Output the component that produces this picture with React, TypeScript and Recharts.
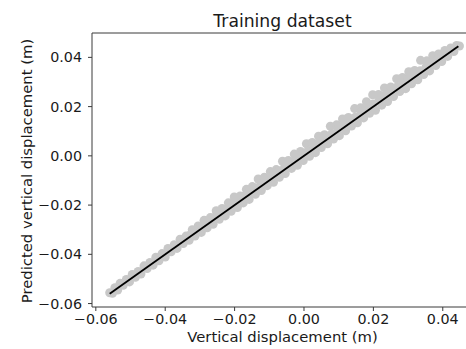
import { ScatterChart, Scatter, XAxis, YAxis, ZAxis, ReferenceLine } from "recharts";

// measured vertical displacement (m)
const actual = [
  -0.056, -0.0552, -0.0545, -0.0537, -0.053, -0.0521, -0.0512, -0.0503, -0.0495, -0.0486,
  -0.0478, -0.047, -0.0461, -0.0452, -0.0444, -0.0435, -0.0427, -0.0418, -0.0409, -0.04,
  -0.0392, -0.0383, -0.0374, -0.0366, -0.0357, -0.0348, -0.034, -0.0331, -0.0322, -0.0314,
  -0.0305, -0.0296, -0.0288, -0.0279, -0.027, -0.0262, -0.0253, -0.0244, -0.0236, -0.0227,
  -0.0218, -0.021, -0.0201, -0.0192, -0.0184, -0.0175, -0.0166, -0.0158, -0.0149, -0.014,
  -0.0132, -0.0123, -0.0114, -0.0106, -0.0097, -0.0088, -0.008, -0.0071, -0.0062, -0.0054,
  -0.0045, -0.0036, -0.0028, -0.0019, -0.001, -0.0002, 0.0007, 0.0016, 0.0024, 0.0033,
  0.0042, 0.005, 0.0059, 0.0068, 0.0076, 0.0085, 0.0094, 0.0102, 0.0111, 0.012,
  0.0128, 0.0137, 0.0146, 0.0154, 0.0163, 0.0172, 0.018, 0.0189, 0.0198, 0.0206,
  0.0215, 0.0224, 0.0232, 0.0241, 0.025, 0.0258, 0.0267, 0.0276, 0.0284, 0.0293,
  0.0302, 0.031, 0.0319, 0.0328, 0.0336, 0.0345, 0.0354, 0.0362, 0.0371, 0.038,
  0.0388, 0.0397, 0.0406, 0.0414, 0.0423, 0.0432, 0.044, 0.0448,
];

// model prediction (m)
const predicted = [
  -0.0556, -0.0558, -0.0536, -0.0545, -0.0518, -0.0526, -0.0502, -0.0512, -0.0482, -0.0493,
  -0.047, -0.048, -0.0447, -0.0458, -0.0433, -0.0444, -0.0412, -0.0426, -0.0397, -0.0411,
  -0.0376, -0.039, -0.0361, -0.0376, -0.0339, -0.0356, -0.0326, -0.0343, -0.03, -0.0326,
  -0.0285, -0.0311, -0.0262, -0.0292, -0.0251, -0.0278, -0.0223, -0.0258, -0.0214, -0.0244,
  -0.0191, -0.0225, -0.0167, -0.021, -0.0163, -0.0191, -0.0136, -0.0177, -0.0125, -0.0156,
  -0.0094, -0.0141, -0.0087, -0.0121, -0.0064, -0.0107, -0.0056, -0.0087, -0.0022, -0.0072,
  -0.0019, -0.0051, 0.0007, -0.0038, 0.0018, -0.0019, 0.0049, -0.0002, 0.0054, 0.0013,
  0.008, 0.0034, 0.0086, 0.0049, 0.012, 0.0068, 0.0126, 0.0082, 0.015, 0.0102,
  0.0156, 0.0121, 0.0192, 0.0134, 0.0195, 0.0154, 0.022, 0.0173, 0.0248, 0.0185,
  0.0249, 0.0206, 0.0276, 0.0221, 0.028, 0.0241, 0.0313, 0.0261, 0.0318, 0.0273,
  0.0342, 0.0293, 0.0347, 0.0309, 0.0388, 0.033, 0.0386, 0.0345, 0.0407, 0.0367,
  0.0414, 0.0383, 0.0428, 0.0404, 0.0438, 0.0424, 0.0448, 0.0446,
];

// samples lying close to the 1:1 line
const actualMid = [
  -0.0345, -0.0328, -0.0311, -0.0294, -0.0277, -0.026, -0.0243, -0.0226, -0.0209, -0.0192,
  -0.0175, -0.0158, -0.0141, -0.0124, -0.0107, -0.009, -0.0073, -0.0056, -0.0039, -0.0022,
  -0.0005, 0.0012, 0.0029, 0.0046, 0.0063, 0.008, 0.0097, 0.0114, 0.0131, 0.0148,
  0.0165, 0.0182, 0.0199, 0.0216, 0.0233, 0.025, 0.0267, 0.0284, 0.0301, 0.0318,
  0.0335, 0.0352, 0.0369, 0.0386, 0.0403,
];
const predictedMid = [
  -0.0339, -0.0321, -0.0301, -0.0287, -0.0266, -0.0252, -0.0232, -0.0218, -0.0198, -0.0183,
  -0.0164, -0.0149, -0.013, -0.0115, -0.0096, -0.0081, -0.0061, -0.0047, -0.0027, -0.0013,
  0.0007, 0.0021, 0.0041, 0.0055, 0.0075, 0.0089, 0.0109, 0.0123, 0.0143, 0.0157,
  0.0177, 0.0191, 0.0211, 0.0225, 0.0245, 0.0259, 0.0279, 0.0293, 0.0313, 0.0327,
  0.0346, 0.0361, 0.038, 0.0394, 0.0413,
];

// fitted 1:1 line end points
const fitX = [-0.056, 0.0445];
const fitY = [-0.056, 0.0445];

const ticks = [-0.06, -0.04, -0.02, 0, 0.02, 0.04];
const xDomain = [-0.0611, 0.049];
const yDomain = [-0.0614, 0.0499];

const points = [
  ...actual.map((x, i) => ({ x, y: predicted[i] })),
  ...actualMid.map((x, i) => ({ x, y: predictedMid[i] })),
];
const fitLine = fitX.map((x, i) => ({ x, y: fitY[i] }));

const fmt = (v: number) => (v < 0 ? "\u2212" + Math.abs(v).toFixed(2) : v.toFixed(2));

const FONT = "DejaVu Sans";
const AXIS = "#3a3a3a";
const TEXT = "#1a1a1a";
const tickStyle = { fontFamily: FONT, fontSize: 14.3, fill: TEXT };

export default function App() {
  return (
    <div style={{ position: "absolute", left: 0, top: 0, width: 466, height: 349, overflow: "hidden", background: "#fff" }}>
      <ScatterChart width={475} height={349} margin={{ top: 33, right: 1, bottom: 0, left: 0 }}>
        <XAxis
          type="number"
          dataKey="x"
          domain={xDomain}
          ticks={ticks}
          tickFormatter={fmt}
          allowDataOverflow
          height={42}
          stroke={AXIS}
          tickSize={4}
          tickMargin={3}
          tick={tickStyle}
        />
        <YAxis
          type="number"
          dataKey="y"
          domain={yDomain}
          ticks={ticks}
          tickFormatter={fmt}
          allowDataOverflow
          width={92}
          stroke={AXIS}
          tickSize={4}
          tickMargin={6}
          tick={tickStyle}
        />
        <ZAxis range={[56, 56]} />
        <ReferenceLine y={yDomain[1]} stroke={AXIS} strokeWidth={1} />
        <Scatter data={points} fill="#c8c8c8" isAnimationActive={false} />
        <Scatter
          data={fitLine}
          line={{ stroke: "#000", strokeWidth: 1.8 }}
          shape={() => <g />}
          isAnimationActive={false}
        />
      </ScatterChart>
      <svg width={466} height={349} style={{ position: "absolute", left: 0, top: 0, pointerEvents: "none" }}>
        <text x={282.5} y={27} textAnchor="middle" fontFamily={FONT} fontSize={17.2} fill={TEXT}>
          Training dataset
        </text>
        <text x={282.5} y={342} textAnchor="middle" fontFamily={FONT} fontSize={14.8} fill={TEXT}>
          Vertical displacement (m)
        </text>
        <text
          x={0}
          y={0}
          transform="translate(32 171) rotate(-90)"
          textAnchor="middle"
          fontFamily={FONT}
          fontSize={14.8}
          fill={TEXT}
        >
          Predicted vertical displacement (m)
        </text>
      </svg>
    </div>
  );
}
